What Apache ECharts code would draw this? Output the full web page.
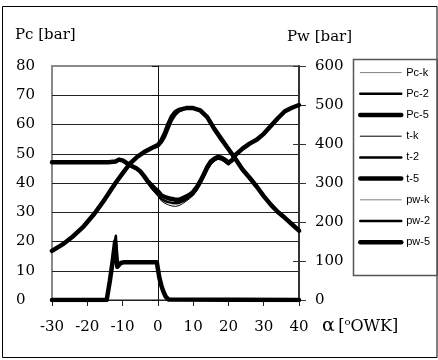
<!DOCTYPE html>
<html>
<head>
<meta charset="utf-8">
<script src="https://cdn.jsdelivr.net/npm/echarts@6/dist/echarts.min.js"></script>
<style>
  html, body { margin: 0; padding: 0; background: #fff; }
  #chart { width: 438px; height: 360px; }
</style>
</head>
<body>
<div id="chart"></div>
<script>
// kąt obrotu wału (x) i wartości serii
const names = ['Pc-k', 'Pc-2', 'Pc-5', 't-k', 't-2', 't-5', 'pw-k', 'pw-2', 'pw-5'];
const xTicks = [-30, -20, -10, 0, 10, 20, 30, 40];

// Pc [bar] - lewa oś
const alphaPc = [-30, -27, -24, -21, -18, -15, -12, -10, -8, -6, -4, -2, 0, 1, 2, 3, 4, 5, 6, 8, 10, 12, 14, 16, 18, 20, 22, 24, 26, 28, 30, 32, 34, 36, 38, 40];
const pcK = [16.8, 19, 21.8, 25.2, 29.5, 34.5, 40, 43.3, 46.5, 48.8, 50.5, 51.8, 52.2, 53.3, 55, 57.8, 60.8, 62.8, 64.2, 65.6, 65.6, 64.8, 62.5, 58.5, 55, 51.6, 48.2, 44.6, 41.8, 38.8, 35.5, 32.6, 30.1, 28.1, 25.9, 23.7];
const pc2 = [16.8, 19, 21.8, 25.2, 29.5, 34.5, 40, 43.3, 46.5, 48.8, 50.5, 51.8, 52.5, 53.8, 55.8, 58.8, 61.6, 63.4, 64.5, 65.6, 65.6, 64.8, 62.5, 58.5, 55, 51.6, 48.2, 44.6, 41.8, 38.8, 35.5, 32.6, 30.1, 28.1, 25.9, 23.7];
const pc5 = [16.8, 19, 21.8, 25.2, 29.5, 34.5, 40, 43.3, 46.5, 48.8, 50.5, 51.8, 53, 54.5, 57, 60.2, 62.8, 64.3, 65, 65.6, 65.6, 64.8, 62.5, 58.5, 55, 51.6, 48.2, 44.6, 41.8, 38.8, 35.5, 32.6, 30.1, 28.1, 25.9, 23.7];

// t - prawa oś
const alphaT = [-30, -14, -12, -11, -10, -9, -8, -6, -5, -4, -3, -2, -1, 0, 1, 2, 3, 4, 5, 6, 7, 8, 9, 10, 11, 12, 13, 14, 15, 16, 17, 18, 19, 20, 21, 22, 24, 26, 28, 30, 32, 34, 36, 38, 40];
const tK = [353, 353, 355, 360, 358, 352, 346, 337, 330, 319, 301, 287, 276, 266, 254, 248, 244, 241, 240, 242, 247, 253, 260, 268, 280, 295, 313, 331, 347, 356, 361, 359, 353, 346, 356, 372, 388, 401, 411, 426, 446, 466, 484, 493, 500];
const t2 = [353, 353, 355, 360, 358, 352, 346, 337, 330, 319, 303, 290, 280, 271, 259, 254, 251, 249, 248, 249, 253, 258, 264, 271, 283, 298, 316, 335, 350, 358, 363, 361, 355, 348, 357, 372, 388, 401, 411, 426, 446, 466, 484, 493, 500];
const t5 = [353, 353, 355, 360, 358, 352, 346, 337, 330, 319, 306, 296, 287, 279, 268, 264, 261, 259, 257, 257, 261, 265, 270, 277, 289, 304, 322, 341, 355, 362, 367, 365, 360, 352, 358, 372, 388, 401, 411, 426, 446, 466, 484, 493, 500];

// pw [bar] - prawa oś
const alphaPw = [-30, -14.5, -13.6, -12.8, -12.1, -11.9, -11.5, -11, -10.5, -9.5, -0.3, 0.1, 0.4, 1, 1.5, 2.2, 3, 40];
const pwK = [0, 0, 49, 100, 152, 160, 83, 86, 94, 97, 97, 94, 58, 37, 23, 9, 1, 0];
const pw2 = [0, 0, 49, 100, 156, 165, 83, 86, 94, 97, 97, 94, 58, 37, 23, 9, 1, 0];
const pw5 = [0, 0, 49, 100, 150, 155, 85, 88, 95, 97, 97, 94, 58, 37, 23, 9, 1, 0];

function zip(xs, ys) {
  return xs.map((x, i) => [x, ys[i]]);
}

const serif = 'DejaVu Serif';
const lines = [
  { name: 'Pc-k', x: alphaPc, y: pcK, color: '#808080', w: 1, axis: 0 },
  { name: 'Pc-2', x: alphaPc, y: pc2, color: '#000', w: 2.5, axis: 0 },
  { name: 'Pc-5', x: alphaPc, y: pc5, color: '#000', w: 4.5, axis: 0 },
  { name: 't-k', x: alphaT, y: tK, color: '#000', w: 1, axis: 1 },
  { name: 't-2', x: alphaT, y: t2, color: '#000', w: 2.5, axis: 1 },
  { name: 't-5', x: alphaT, y: t5, color: '#000', w: 4.5, axis: 1 },
  { name: 'pw-k', x: alphaPw, y: pwK, color: '#808080', w: 1, axis: 1 },
  { name: 'pw-2', x: alphaPw, y: pw2, color: '#000', w: 2.5, axis: 1 },
  { name: 'pw-5', x: alphaPw, y: pw5, color: '#000', w: 4.5, axis: 1 }
];

let mychart = echarts.init(document.getElementById('chart'));

const option = {
  animation: false,
  backgroundColor: '#fff',
  grid: {
    left: 52, top: 66, width: 247, height: 234,
    show: true, borderColor: '#8a8a8a', borderWidth: 2
  },
  legend: {
    orient: 'vertical',
    left: 358, top: 67,
    padding: 0,
    itemWidth: 41, itemHeight: 14, itemGap: 10,
    data: names,
    // bez kółek w legendzie, same linie
    itemStyle: { opacity: 0, borderWidth: 0 },
    lineStyle: { width: 'inherit' },
    textStyle: { fontFamily: 'Liberation Sans', fontSize: 11, color: '#000' }
  },
  xAxis: {
    type: 'value',
    min: -30, max: 40, interval: 10,
    axisLine: { lineStyle: { color: '#222', width: 1 } },
    axisTick: { length: 6, lineStyle: { color: '#222' } },
    splitLine: { show: false },
    axisLabel: {
      margin: 20,
      fontFamily: serif, fontSize: 15, color: '#000',
      formatter: v => (xTicks.indexOf(v) >= 0 ? String(v) : '')
    }
  },
  yAxis: [
    {
      // Pc - etykiety po lewej
      type: 'value', position: 'left',
      min: 0, max: 80, interval: 10,
      axisLine: { show: false, onZero: false },
      axisTick: { show: false },
      splitLine: { show: true, showMinLine: false, showMaxLine: false, lineStyle: { color: '#222', width: 1 } },
      axisLabel: {
        align: 'left', margin: 36, padding: [0, 0, 6, 0],
        fontFamily: serif, fontSize: 15, color: '#000'
      }
    },
    {
      // Pw - prawa oś
      type: 'value', position: 'right',
      min: 0, max: 600, interval: 100,
      axisLine: { show: true, onZero: false, lineStyle: { color: '#333', width: 2 } },
      axisTick: { show: true, length: 7, lineStyle: { color: '#333', width: 1 } },
      splitLine: { show: false },
      axisLabel: {
        margin: 16, padding: [0, 0, 6, 0],
        fontFamily: serif, fontSize: 15, color: '#000'
      }
    },
    {
      // kreski do środka na prawej osi
      type: 'value', position: 'right',
      min: 0, max: 600, interval: 100,
      axisLine: { show: false, onZero: false },
      axisTick: { show: true, inside: true, length: 6, lineStyle: { color: '#333', width: 1 } },
      splitLine: { show: false },
      axisLabel: { show: false }
    },
    {
      // oś pionowa w punkcie 0
      type: 'value', position: 'left',
      min: 0, max: 80, interval: 10,
      axisLine: { show: true, onZero: true, lineStyle: { color: '#111', width: 1 } },
      axisTick: { show: true, length: 6, lineStyle: { color: '#111' } },
      splitLine: { show: false },
      axisLabel: { show: false }
    }
  ],
  graphic: [
    {
      type: 'rect', silent: true, z: -1,
      shape: { x: 2.5, y: 6.5, width: 434.5, height: 351 },
      style: { fill: 'none', stroke: '#000', lineWidth: 1 }
    },
    {
      type: 'rect', silent: true,
      shape: { x: 353.5, y: 59.5, width: 84, height: 216 },
      style: { fill: 'none', stroke: '#555', lineWidth: 1.5 }
    },
    {
      type: 'text', left: 15, top: 28,
      style: { text: 'Pc [bar]', font: '15px "DejaVu Serif"', fill: '#000' }
    },
    {
      type: 'text', left: 287, top: 30,
      style: { text: 'Pw [bar]', font: '15px "DejaVu Serif"', fill: '#000' }
    },
    {
      type: 'text', left: 322, top: 317,
      style: {
        text: '{a|α} {b|[}{s|o}{b|OWK]}',
        fill: '#000',
        rich: {
          a: { fontFamily: serif, fontSize: 19 },
          b: { fontFamily: serif, fontSize: 16 },
          s: { fontFamily: serif, fontSize: 10, padding: [0, 0, 8, 0] }
        }
      }
    }
  ],
  series: lines.map(s => ({
    name: s.name,
    type: 'line',
    yAxisIndex: s.axis,
    symbol: 'none',
    smooth: false,
    color: s.color,
    lineStyle: { color: s.color, width: s.w, join: 'round', cap: 'round' },
    data: zip(s.x, s.y)
  }))
};

mychart.setOption(option);
</script>
</body>
</html>
